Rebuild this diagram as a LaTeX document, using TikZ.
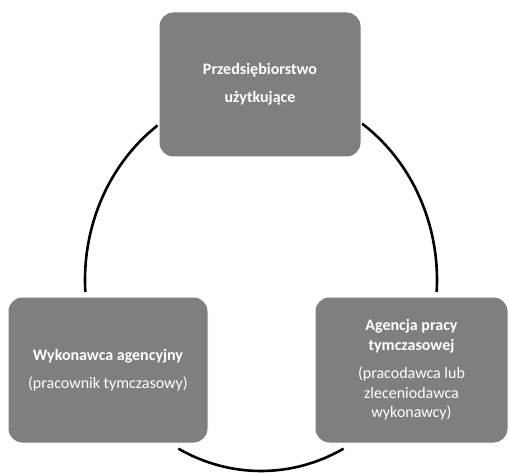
\documentclass[tikz,border=0pt]{standalone}
\usepackage{fontspec}
\setmainfont{Carlito}
\definecolor{boxgray}{RGB}{127,127,127}
\tikzset{
  cyclebox/.style={rectangle, rounded corners=14pt, fill=boxgray, draw=white, line width=1pt,
    text=white, align=center, inner sep=0pt, font=\fontsize{16}{19.5}\selectfont},
  cyclearc/.style={draw=black, line width=2.6pt}
}
\begin{document}
\begin{tikzpicture}[x=1pt,y=1pt]
\useasboundingbox (0,0) rectangle (509,472);
\coordinate (c) at (261,192);
% arcs of the cycle
\draw[cyclearc] ([shift={(55:176pt and 191pt)}]c) arc[start angle=55, end angle=-3.6, x radius=176pt, y radius=191pt];
\draw[cyclearc] ([shift={(-62:176pt and 191pt)}]c) arc[start angle=-62, end angle=-118, x radius=176pt, y radius=191pt];
\draw[cyclearc] ([shift={(183.6:176pt and 191pt)}]c) arc[start angle=183.6, end angle=126, x radius=176pt, y radius=191pt];
% boxes
\node[cyclebox, minimum width=202pt, minimum height=145pt] (top) at (260,387.5)
  {{\bfseries Przedsiębiorstwo}\\[8.5pt]{\bfseries użytkujące}};
\node[cyclebox, minimum width=200pt, minimum height=146pt] (left) at (108,102)
  {{\bfseries Wykonawca agencyjny}\\[9pt](pracownik tymczasowy)};
\node[cyclebox, minimum width=193pt, minimum height=146pt] (right) at (411.5,102)
  {{\bfseries Agencja pracy}\\{\bfseries tymczasowej}\\[9pt](pracodawca lub\\zleceniodawca\\wykonawcy)};
\end{tikzpicture}
\end{document}
